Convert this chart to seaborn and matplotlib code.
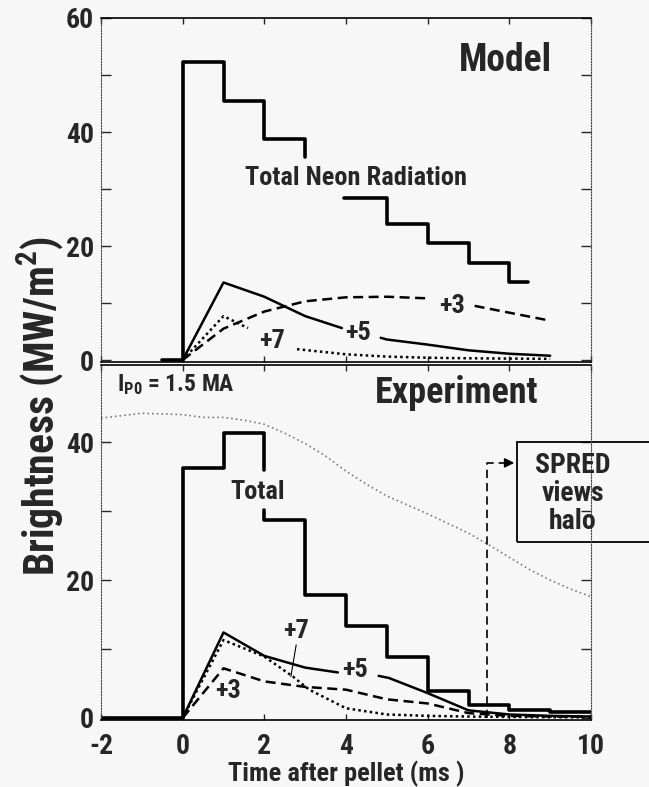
import numpy as np
import pandas as pd
import matplotlib.pyplot as plt
import seaborn as sns
from matplotlib import font_manager

# ---------------- Model panel data (time in ms, brightness MW/m^2) ----------------
model_total_t1 = [-0.5, 0, 1, 2, 3]
model_total_v1 = [0, 52.3, 45.5, 38.8, 35.6]
model_total_t2 = [3.95, 5, 6, 7, 8, 8.45]
model_total_v2 = [28.4, 23.9, 20.6, 17.0, 13.7, 13.7]

model_p5_t1 = [0, 1, 2, 3, 3.9]
model_p5_v1 = [0, 13.6, 11.1, 7.7, 5.6]
model_p5_t2 = [4.85, 5, 6, 7, 8, 9]
model_p5_v2 = [3.9, 3.6, 2.7, 1.7, 1.1, 0.75]

model_p3_t1 = [0, 1, 2, 3, 4, 5, 6.05]
model_p3_v1 = [0, 5.5, 8.5, 10.3, 11.0, 11.1, 10.8]
model_p3_t2 = [7.15, 8, 9]
model_p3_v2 = [9.5, 8.3, 6.9]

model_p7_t1 = [0, 1, 1.6]
model_p7_v1 = [0, 7.7, 5.6]
model_p7_t2 = [2.8, 4, 5, 6, 7, 8, 9]
model_p7_v2 = [1.9, 1.0, 0.6, 0.4, 0.3, 0.25, 0.2]

# ---------------- Experiment panel data ----------------
exp_total_t1 = [-2, 0, 1, 2]
exp_total_v1 = [0, 36.2, 41.4, 36.0]
exp_total_t2 = [2, 2, 3, 4, 5, 6, 7, 8, 9, 10]
exp_total_v2 = [30.2, 28.7, 17.9, 13.3, 8.9, 3.9, 1.9, 1.2, 0.8, 0.8]

exp_p5_t1 = [0, 1, 2, 3, 3.8]
exp_p5_v1 = [0, 12.4, 9.0, 7.3, 6.6]
exp_p5_t2 = [4.8, 5.05, 6, 7, 8, 9, 10]
exp_p5_v2 = [6.1, 5.8, 3.6, 1.1, 0.5, 0.3, 0.2]

exp_p7_t = [0, 1, 2, 2.7, 3.1, 4, 5, 6, 7, 8, 9, 10]
exp_p7_v = [0, 11.3, 8.9, 6.0, 4.1, 1.4, 0.5, 0.3, 0.2, 0.15, 0.1, 0.1]

exp_p3_t = [0, 1, 2, 3, 4, 5, 6, 7, 8, 9, 10]
exp_p3_v = [0, 7.2, 5.3, 4.5, 4.1, 2.7, 2.1, 0.7, 0.3, 0.2, 0.2]

# plasma current trace (grey, arbitrary scale)
ip_t = [-2, -1, 0, 0.5, 1, 1.5, 2, 2.5, 3, 3.5, 4, 4.5, 5, 5.5, 6, 6.5, 7, 7.5, 8, 8.5, 9, 9.5, 10]
ip_v = [43.5, 44.2, 44.0, 43.6, 43.6, 43.2, 42.6, 41.3, 39.8, 38.0, 35.8, 33.9, 32.2,
        30.9, 29.6, 28.2, 26.8, 25.1, 23.3, 21.5, 20.0, 18.7, 17.6]

x_ticks = [-2, 0, 2, 4, 6, 8, 10]


def segs(*pairs):
    frames = []
    for i, (t, v) in enumerate(pairs):
        frames.append(pd.DataFrame({"t": t, "v": v, "seg": i}))
    return pd.concat(frames, ignore_index=True)


# pick a condensed bold face if there is one
installed = {f.name for f in font_manager.fontManager.ttflist}
narrow = [n for n in ["Liberation Sans Narrow", "DejaVu Sans Condensed", "Roboto Condensed",
                      "Open Sans Condensed"] if n in installed]
main_font = narrow[0] if narrow else "Liberation Sans"

sns.set_style("ticks")
plt.rcParams["font.family"] = [main_font, "DejaVu Sans"]
plt.rcParams["font.weight"] = "bold"
plt.rcParams["axes.unicode_minus"] = False
plt.rcParams["mathtext.fontset"] = "custom"
plt.rcParams["mathtext.rm"] = main_font + ":bold"
plt.rcParams["mathtext.it"] = main_font + ":bold"
plt.rcParams["mathtext.bf"] = main_font + ":bold"

BG = "#f7f7f7"
fig = plt.figure(figsize=(6.49, 7.87), dpi=100, facecolor=BG)
L, W = 101 / 649, 490 / 649
ax1 = fig.add_axes([L, 1 - 362 / 787, W, (362 - 18) / 787], facecolor=BG)
ax2 = fig.add_axes([L, 1 - 720 / 787, W, (720 - 365) / 787], facecolor=BG)

dash = (0, (4, 2.2))
dot = (0, (1, 1.3))
thick, thin = 2.6, 1.8


def draw(ax, df, lw, ls="-", step=False, color="black"):
    kw = dict(drawstyle="steps-post") if step else {}
    sns.lineplot(data=df, x="t", y="v", units="seg", estimator=None, sort=False,
                 color=color, lw=lw, linestyle=ls, ax=ax, legend=False, **kw)


# ---- Model ----
draw(ax1, segs((model_total_t1, model_total_v1), (model_total_t2, model_total_v2)), thick, step=True)
draw(ax1, segs((model_p5_t1, model_p5_v1), (model_p5_t2, model_p5_v2)), thin)
draw(ax1, segs((model_p3_t1, model_p3_v1), (model_p3_t2, model_p3_v2)), thin, dash)
draw(ax1, segs((model_p7_t1, model_p7_v1), (model_p7_t2, model_p7_v2)), thin, dot)

# ---- Experiment ----
draw(ax2, segs((ip_t, ip_v)), 1.2, (0, (1, 1.8)), color="#7a7a7a")
draw(ax2, segs((exp_total_t1, exp_total_v1), (exp_total_t2, exp_total_v2)), thick, step=True)
draw(ax2, segs((exp_p5_t1, exp_p5_v1), (exp_p5_t2, exp_p5_v2)), thin)
draw(ax2, segs((exp_p7_t, exp_p7_v)), thin, dot)
draw(ax2, segs((exp_p3_t, exp_p3_v)), thin, dash)

# axes styling
for ax in (ax1, ax2):
    ax.set_xlim(-2, 10)
    ax.set_xticks(x_ticks)
    ax.set_xlabel("")
    ax.set_ylabel("")
    ax.tick_params(which="both", direction="in", length=7, width=1,
                   left=True, right=True, top=True, bottom=True, labelsize=20, pad=5)
    ax.tick_params(axis="x", length=4, pad=9)
    for s in ("left", "right"):
        ax.spines[s].set_linestyle((0, (1, 1.5)))
        ax.spines[s].set_linewidth(0.8)
        ax.spines[s].set_color("#444444")
    for s in ("top", "bottom"):
        ax.spines[s].set_linewidth(1.2)
        ax.spines[s].set_color("black")
    for s in ax.spines.values():
        s.set_visible(True)
    for lab in ax.get_yticklabels() + ax.get_xticklabels():
        lab.set_fontweight("bold")

ax1.set_ylim(-0.35, 60)
ax1.set_yticks([0, 20, 40, 60])
ax1.set_yticks([10, 30, 50], minor=True)
ax1.tick_params(axis="x", labelbottom=False)

ax2.set_ylim(-0.3, 51.2)
ax2.set_yticks([0, 20, 40])
ax2.set_yticks([10, 30], minor=True)

big, mid = 26, 19
# labels
ax1.text(7.9, 52.6, "Model", fontsize=27, fontweight="bold", ha="center", va="center")
ax1.text(4.24, 31.9, "Total Neon Radiation", fontsize=mid, fontweight="bold", ha="center", va="center")
ax1.text(6.6, 9.4, "+3", fontsize=mid, fontweight="bold", ha="center", va="center")
ax1.text(4.3, 4.8, "+5", fontsize=mid, fontweight="bold", ha="center", va="center")
ax1.text(2.2, 3.3, "+7", fontsize=mid, fontweight="bold", ha="center", va="center")

ax2.text(-1.6, 48.3, r"I$_{\rm P0}$ = 1.5 MA", fontsize=17, fontweight="bold", ha="left", va="center")
ax2.text(6.7, 47.2, "Experiment", fontsize=big, fontweight="bold", ha="center", va="center")
ax2.text(1.84, 32.8, "Total", fontsize=mid, fontweight="bold", ha="center", va="center")
ax2.text(2.78, 12.6, "+7", fontsize=mid, fontweight="bold", ha="center", va="center")
ax2.plot([2.78, 2.65], [10.6, 6.0], color="black", lw=0.8)
ax2.text(4.21, 7.0, "+5", fontsize=mid, fontweight="bold", ha="center", va="center")
ax2.text(1.1, 3.9, "+3", fontsize=mid, fontweight="bold", ha="center", va="center")

# SPRED box with dashed arrow
ax2.plot([7.45, 7.45, 7.9], [0, 37, 37], color="black", lw=1.2, linestyle=(0, (5, 3)))
ax2.annotate("", xy=(8.19, 37), xytext=(7.85, 37),
             arrowprops=dict(arrowstyle="-|>", color="black", lw=1.2, mutation_scale=14))
ax2.add_patch(plt.Rectangle((8.19, 25.5), 5, 14.6, fill=False, edgecolor="black",
                            lw=1.3, clip_on=False))
ax2.text(9.55, 32.6, "SPRED\nviews\nhalo", fontsize=20, fontweight="bold",
         ha="center", va="center", linespacing=1.05)

fig.text(0.5 * (101 + 591) / 649, 1 - 774 / 787, "Time after pellet (ms )", fontsize=19,
         fontweight="bold", ha="center", va="center")
fig.text(41 / 649, 1 - 406 / 787, r"Brightness (MW/m$^{\rm 2}$)", fontsize=30, fontweight="bold",
         rotation=90, ha="center", va="center")

fig.savefig("out.png", dpi=100, facecolor=BG)
